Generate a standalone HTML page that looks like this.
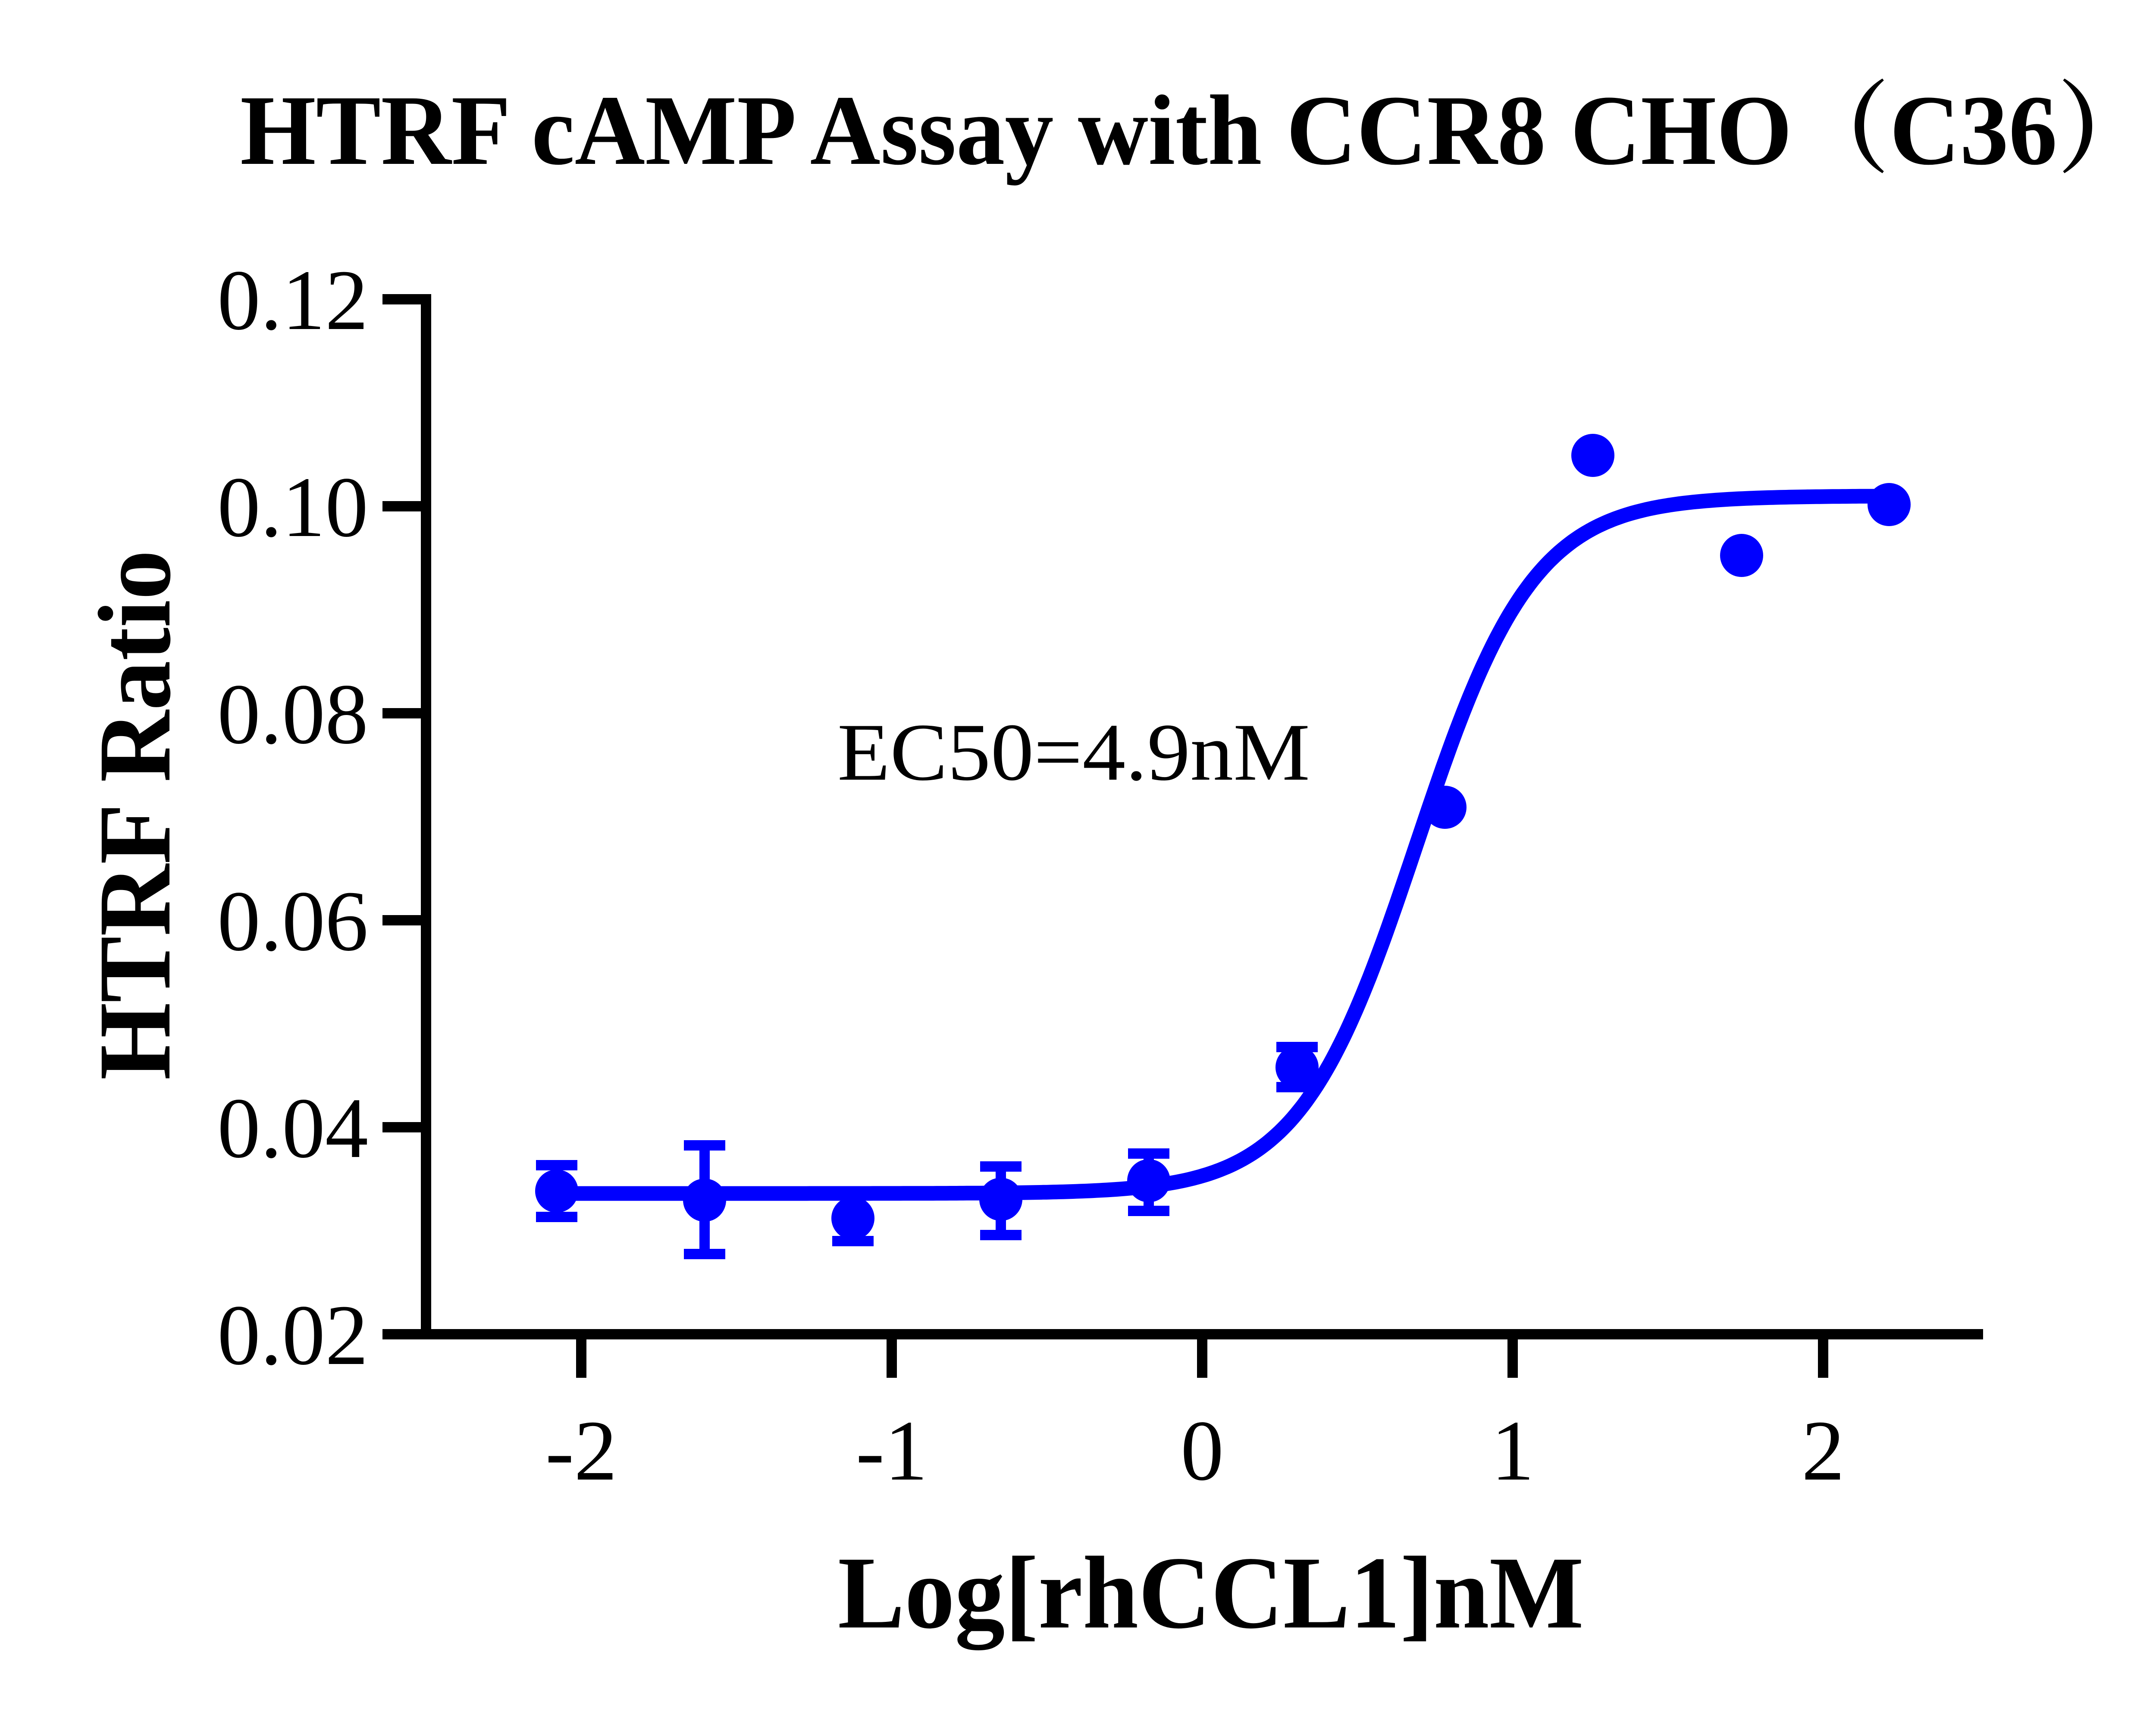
<!DOCTYPE html>
<html><head><meta charset="utf-8"><style>html,body{margin:0;padding:0;background:#fff}svg{display:block}</style></head>
<body>
<svg id="s" xmlns="http://www.w3.org/2000/svg" width="5196" height="3970" viewBox="0 0 5196 3970">
<rect width="5196" height="3970" fill="#fff"/>
<text x="557" y="380" font-family="'Liberation Serif','Noto Serif CJK SC',serif" font-weight="bold" font-size="232" textLength="4440" lengthAdjust="spacingAndGlyphs">HTRF cAMP Assay with CCR8 CHO（C36）</text>
<g stroke="#000" stroke-width="24" fill="none">
<line x1="988" y1="682" x2="988" y2="3106"/>
<line x1="976" y1="3094" x2="4599" y2="3094"/>
<line x1="887" y1="694" x2="988" y2="694"/>
<line x1="887" y1="1174" x2="988" y2="1174"/>
<line x1="887" y1="1654" x2="988" y2="1654"/>
<line x1="887" y1="2134" x2="988" y2="2134"/>
<line x1="887" y1="2614" x2="988" y2="2614"/>
<line x1="887" y1="3094" x2="988" y2="3094"/>
<line x1="1348" y1="3094" x2="1348" y2="3195"/>
<line x1="2068" y1="3094" x2="2068" y2="3195"/>
<line x1="2788" y1="3094" x2="2788" y2="3195"/>
<line x1="3508" y1="3094" x2="3508" y2="3195"/>
<line x1="4228" y1="3094" x2="4228" y2="3195"/>
</g>
<g font-family="'Liberation Serif',serif" font-size="200" text-anchor="end">
<text x="854" y="763">0.12</text>
<text x="854" y="1243">0.10</text>
<text x="854" y="1723">0.08</text>
<text x="854" y="2203">0.06</text>
<text x="854" y="2683">0.04</text>
<text x="854" y="3163">0.02</text>
</g>
<g font-family="'Liberation Serif',serif" font-size="200" text-anchor="middle">
<text x="1348" y="3431">-2</text>
<text x="2068" y="3431">-1</text>
<text x="2788" y="3431">0</text>
<text x="3508" y="3431">1</text>
<text x="4228" y="3431">2</text>
</g>
<text x="2808" y="3774" font-family="'Liberation Serif',serif" font-weight="bold" font-size="240" text-anchor="middle" textLength="1730" lengthAdjust="spacingAndGlyphs">Log[rhCCL1]nM</text>
<text transform="translate(393,1890) rotate(-90)" font-family="'Liberation Serif',serif" font-weight="bold" font-size="240" text-anchor="middle" textLength="1229" lengthAdjust="spacingAndGlyphs">HTRF Ratio</text>
<text x="1942" y="1808" font-family="'Liberation Serif',serif" font-size="190" textLength="1096" lengthAdjust="spacingAndGlyphs">EC50=4.9nM</text>
<g id="data" fill="#0000ff" stroke="#0000ff"></g>
</svg>
<script>
(function(){
var ns="http://www.w3.org/2000/svg",g=document.getElementById('data');
function X(l){return 1348+720*(l+2);}
function Y(v){return 3094-(v-0.02)*24000;}
function el(n,a){var e=document.createElementNS(ns,n);for(var k in a)e.setAttribute(k,a[k]);g.appendChild(e);return e;}
var b=0.0336,t=0.101,ec=0.69,h=2.3;
var d="";
for(var i=0;i<=400;i++){var l=-2.079+i*(4.292/400);var v=b+(t-b)/(1+Math.pow(10,h*(ec-l)));d+=(i?"L":"M")+X(l).toFixed(1)+" "+Y(v).toFixed(1);}
el('path',{d:d,fill:'none','stroke-width':34,'stroke-linejoin':'round'});
var pts=[[1291,2762,2702,2822],[1634,2783,2656,2908],[1978,2825,2771,2878],[2321,2781,2705,2864],[2664,2738,2675,2808],[3008,2475,2428,2521],[3351,1872],[3694,1056],[4039,1288],[4381,1170]];
pts.forEach(function(p){
 if(p.length>2){
  el('line',{x1:p[0],y1:p[2],x2:p[0],y2:p[3],'stroke-width':24});
  el('line',{x1:p[0]-48,y1:p[2],x2:p[0]+48,y2:p[2],'stroke-width':24});
  el('line',{x1:p[0]-48,y1:p[3],x2:p[0]+48,y2:p[3],'stroke-width':24});
 }
 el('circle',{cx:p[0],cy:p[1],r:50,stroke:'none'});
});
})();
</script>
</body></html>
